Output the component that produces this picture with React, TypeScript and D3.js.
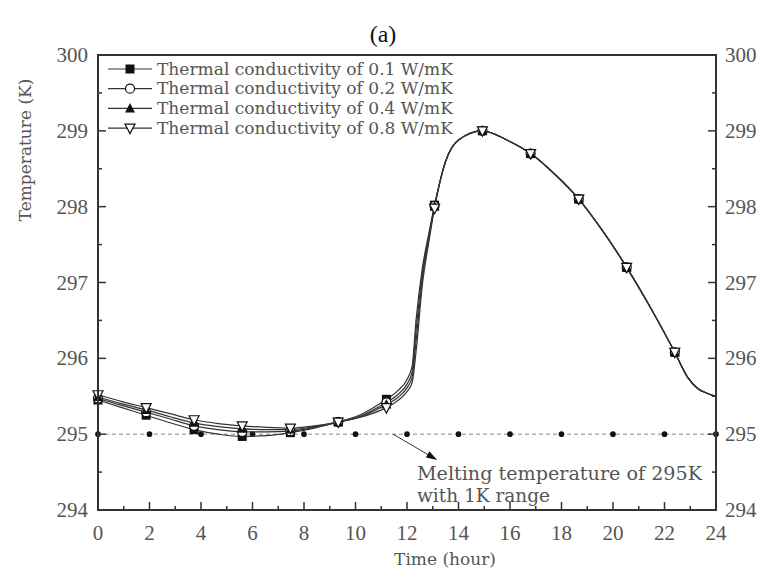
import React from "react";
import * as d3 from "d3";

// time grid of the curves (hour)
const hours = [0, 0.93, 1.87, 2.8, 3.73, 4.67, 5.6, 6.53, 7.47, 8.4, 9.33, 10.27, 11.2, 11.67, 12.0, 12.2, 12.35, 12.6, 12.85, 13.07, 13.5, 14.0, 14.93, 15.87, 16.8, 17.73, 18.67, 19.6, 20.53, 21.47, 22.4, 22.9, 23.3, 23.65, 24];
const markerHours = [0, 1.87, 3.73, 5.6, 7.47, 9.33, 11.2, 13.07, 14.93, 16.8, 18.67, 20.53, 22.4];

const k01 = [295.45, 295.35, 295.25, 295.15, 295.06, 295.0, 294.97, 294.98, 295.02, 295.08, 295.16, 295.27, 295.46, 295.58, 295.72, 295.9, 296.5, 297.2, 297.65, 298.02, 298.6, 298.88, 299.0, 298.88, 298.7, 298.43, 298.1, 297.68, 297.2, 296.66, 296.08, 295.75, 295.6, 295.54, 295.5];
const k02 = [295.47, 295.38, 295.29, 295.2, 295.11, 295.06, 295.03, 295.03, 295.04, 295.09, 295.16, 295.25, 295.42, 295.53, 295.66, 295.82, 296.36, 297.13, 297.62, 298.01, 298.6, 298.88, 299.0, 298.88, 298.7, 298.43, 298.1, 297.68, 297.2, 296.66, 296.08, 295.75, 295.6, 295.54, 295.5];
const k04 = [295.49, 295.4, 295.32, 295.23, 295.15, 295.1, 295.07, 295.06, 295.06, 295.1, 295.16, 295.24, 295.39, 295.49, 295.61, 295.75, 296.22, 297.06, 297.58, 298.0, 298.6, 298.88, 299.0, 298.88, 298.7, 298.43, 298.1, 297.68, 297.2, 296.66, 296.08, 295.75, 295.6, 295.54, 295.5];
const k08 = [295.52, 295.43, 295.35, 295.27, 295.19, 295.14, 295.11, 295.09, 295.08, 295.11, 295.16, 295.23, 295.35, 295.45, 295.56, 295.68, 296.08, 296.98, 297.54, 297.98, 298.59, 298.88, 299.0, 298.88, 298.7, 298.43, 298.1, 297.68, 297.2, 296.66, 296.08, 295.75, 295.6, 295.54, 295.5];

const seriesNames = [
  "Thermal conductivity of 0.1 W/mK",
  "Thermal conductivity of 0.2 W/mK",
  "Thermal conductivity of 0.4 W/mK",
  "Thermal conductivity of 0.8 W/mK",
];
const seriesValues = [k01, k02, k04, k08];
const markerKinds = ["square", "circle", "triUp", "triDown"];

const meltTemp = 295;
const meltDotHours = [0, 2, 4, 6, 8, 10, 12, 14, 16, 18, 20, 22, 24];

const xTicks = [0, 2, 4, 6, 8, 10, 12, 14, 16, 18, 20, 22, 24];
const yTicks = [294, 295, 296, 297, 298, 299, 300];

const W = 765, H = 572;
const left = 98, right = 716, top = 55, bottom = 510;
const ink = "#333";
const serif = "'DejaVu Serif', serif";
const numFont = "'Liberation Serif', serif";

const Marker = ({ kind, x, y }: { kind: string; x: number; y: number }) => {
  const s = 4.5;
  if (kind === "square")
    return <rect x={x - s} y={y - s} width={2 * s} height={2 * s} fill="#111" />;
  if (kind === "circle")
    return <circle cx={x} cy={y} r={s} fill="white" stroke="#111" strokeWidth={1.2} />;
  if (kind === "triUp")
    return <path d={`M${x},${y - s - 1}L${x + s + 0.5},${y + s - 0.5}L${x - s - 0.5},${y + s - 0.5}Z`} fill="#111" />;
  return (
    <path
      d={`M${x},${y + s + 1}L${x + s + 0.5},${y - s + 0.5}L${x - s - 0.5},${y - s + 0.5}Z`}
      fill="white"
      stroke="#111"
      strokeWidth={1.2}
    />
  );
};

export default function App() {
  const x = d3.scaleLinear().domain([0, 24]).range([left, right]);
  const y = d3.scaleLinear().domain([294, 300]).range([bottom, top]);
  const line = d3
    .line<number>()
    .x((_, i) => x(hours[i]))
    .y((d) => y(d))
    .curve(d3.curveMonotoneX);

  const xMinor = d3.range(0, 25, 1);
  const yMinor = d3.range(294, 300.01, 0.5);

  const arrowFrom = [11.46, 295.0];
  const arrowTo = [13.17, 294.66];
  const ax0 = x(arrowFrom[0]), ay0 = y(arrowFrom[1]);
  const ax1 = x(arrowTo[0]), ay1 = y(arrowTo[1]);
  const ang = Math.atan2(ay1 - ay0, ax1 - ax0);
  const hl = 11, hw = 3.5;
  const head = `M${ax1},${ay1}L${ax1 - hl * Math.cos(ang) + hw * Math.sin(ang)},${ay1 - hl * Math.sin(ang) - hw * Math.cos(ang)}L${ax1 - hl * Math.cos(ang) - hw * Math.sin(ang)},${ay1 - hl * Math.sin(ang) + hw * Math.cos(ang)}Z`;

  return (
    <svg width={W} height={H} style={{ position: "absolute", left: 0, top: 0, background: "white" }}>
      <text x={383} y={42} textAnchor="middle" fontFamily={numFont} fontSize={24} fill="#111">
        (a)
      </text>

      {/* melting line */}
      <line x1={x(0)} x2={x(24)} y1={y(meltTemp)} y2={y(meltTemp)} stroke="#888" strokeWidth={1} strokeDasharray="4,3" />
      {meltDotHours.map((h) => (
        <circle key={h} cx={x(h)} cy={y(meltTemp)} r={2.8} fill="#111" />
      ))}

      {/* curves */}
      {seriesValues.map((vals, si) => (
        <path key={si} d={line(vals) || ""} fill="none" stroke={ink} strokeWidth={1.2} />
      ))}
      {seriesValues.map((vals, si) =>
        markerHours.map((mh) => {
          const i = hours.indexOf(mh);
          return <Marker key={`${si}-${mh}`} kind={markerKinds[si]} x={x(mh)} y={y(vals[i])} />;
        })
      )}

      {/* frame */}
      <rect x={left} y={top} width={right - left} height={bottom - top} fill="none" stroke={ink} strokeWidth={2} />
      {xMinor.map((t) => (
        <line key={t} x1={x(t)} x2={x(t)} y1={bottom} y2={bottom - (t % 2 === 0 ? 8 : 4)} stroke={ink} strokeWidth={1.5} />
      ))}
      {yMinor.map((v) => (
        <g key={v}>
          <line x1={left} x2={left + (v % 1 === 0 ? 8 : 4)} y1={y(v)} y2={y(v)} stroke={ink} strokeWidth={1.5} />
          <line x1={right} x2={right - (v % 1 === 0 ? 8 : 4)} y1={y(v)} y2={y(v)} stroke={ink} strokeWidth={1.5} />
        </g>
      ))}
      {xTicks.map((t) => (
        <text key={t} x={x(t)} y={540} textAnchor="middle" fontFamily={numFont} fontSize={21} fill="#555">
          {t}
        </text>
      ))}
      {yTicks.map((v) => (
        <g key={v}>
          <text x={88} y={y(v) + 7} textAnchor="end" fontFamily={numFont} fontSize={21} fill="#555">
            {v}
          </text>
          <text x={725} y={y(v) + 7} textAnchor="start" fontFamily={numFont} fontSize={21} fill="#555">
            {v}
          </text>
        </g>
      ))}
      <text x={445} y={565} textAnchor="middle" fontFamily={serif} fontSize={17} fill="#555">
        Time (hour)
      </text>
      <text transform="translate(31,150) rotate(-90)" textAnchor="middle" fontFamily={serif} fontSize={17} fill="#555">
        Temperature (K)
      </text>

      {/* legend */}
      {seriesNames.map((name, i) => {
        const ly = 69 + i * 19.7;
        return (
          <g key={name}>
            <line x1={108} x2={152} y1={ly} y2={ly} stroke={ink} strokeWidth={1.2} />
            <Marker kind={markerKinds[i]} x={130} y={ly} />
            <text x={157} y={ly + 5.5} fontFamily={serif} fontSize={17} textLength={296} lengthAdjust="spacingAndGlyphs" fill="#555">
              {name}
            </text>
          </g>
        );
      })}

      {/* annotation */}
      <line x1={ax0} y1={ay0} x2={ax1 - 8 * Math.cos(ang)} y2={ay1 - 8 * Math.sin(ang)} stroke={ink} strokeWidth={1} />
      <path d={head} fill="#111" />
      <text x={417} y={480} fontFamily={serif} fontSize={18.5} textLength={285} lengthAdjust="spacingAndGlyphs" fill="#555">
        Melting temperature of 295K
      </text>
      <text x={417} y={502} fontFamily={serif} fontSize={18.5} fill="#555">
        with 1K range
      </text>
    </svg>
  );
}
